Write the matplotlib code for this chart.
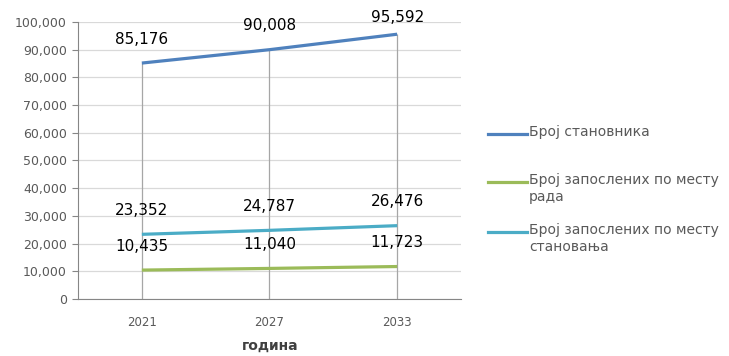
import numpy as np
import matplotlib.pyplot as plt
from matplotlib.lines import Line2D
from matplotlib.ticker import FuncFormatter

years = ["2021", "2027", "2033"]
population = [85176, 90008, 95592]
employed_work = [10435, 11040, 11723]
employed_home = [23352, 24787, 26476]

series_names = [
    "Број становника",
    "Број запослених по месту\nрада",
    "Број запослених по месту\nстановања",
]
series_colors = ["#4F81BD", "#9BBB59", "#4BACC6"]

TICK_GRAY = "#595959"
GRID_GRAY = "#D9D9D9"
AXIS_GRAY = "#868686"

plt.rcParams["font.family"] = ["DejaVu Sans"]

W, H = 729, 356
fig = plt.figure(figsize=(W / 100, H / 100), dpi=100)
ax_rect = [78 / W, 1 - 299 / H, (461 - 78) / W, (299 - 22) / H]
ax = fig.add_axes(ax_rect)

x = np.arange(len(years))
all_series = [population, employed_work, employed_home]
ymax = 100000
px_per_unit = (299 - 22) / ymax

# drop lines from the top series down to the axis
ax.vlines(x, 0, np.max(all_series, axis=0), color="#A6A6A6", linewidth=0.9, zorder=1)

for vals, col in zip(all_series, series_colors):
    ax.plot(x, vals, color=col, linewidth=2.3, zorder=3, solid_capstyle="butt")
    for xi, v in zip(x, vals):
        # label centre ~24px above the point, kept near the plot top like Excel does
        ly = min(v + 24 / px_per_unit, ymax + 4 / px_per_unit)
        ax.text(xi, ly, f"{v:,}", ha="center", va="center", fontsize=11,
                color="black", zorder=4, clip_on=False)

ax.set_xlim(-0.5, len(years) - 0.5)
ax.set_ylim(0, ymax)
ax.set_yticks(np.arange(0, ymax + 1, 10000))
ax.yaxis.set_major_formatter(FuncFormatter(lambda v, p: f"{int(v):,}"))
ax.set_xticks(x)
ax.set_xticklabels(years)

ax.grid(axis="y", color=GRID_GRAY, linewidth=0.9, zorder=0)
ax.set_axisbelow(True)

for s in ["top", "right"]:
    ax.spines[s].set_visible(False)
ax.spines["left"].set_color(AXIS_GRAY)
ax.spines["bottom"].set_color(AXIS_GRAY)
ax.tick_params(axis="y", colors=AXIS_GRAY, labelcolor=TICK_GRAY, labelsize=9,
               length=4, direction="out", pad=4)
ax.tick_params(axis="x", length=0, labelcolor=TICK_GRAY, labelsize=8.5, pad=12)

fig.text(270 / W, 1 - 346 / H, "година", ha="center", va="center",
         fontsize=10, fontweight="bold", color="#404040")

# legend drawn by hand so the line sits on the first text row, as in Excel
legend_y = [134, 182, 232]
for name, col, yy in zip(series_names, series_colors, legend_y):
    fy = 1 - yy / H
    fig.add_artist(Line2D([488 / W, 527 / W], [fy, fy], color=col, linewidth=2.3,
                          transform=fig.transFigure))
    fig.text(529 / W, 1 - (yy - 9) / H, name, ha="left", va="top", fontsize=10,
             color=TICK_GRAY, linespacing=1.25)

fig.savefig("out.png", dpi=100)
